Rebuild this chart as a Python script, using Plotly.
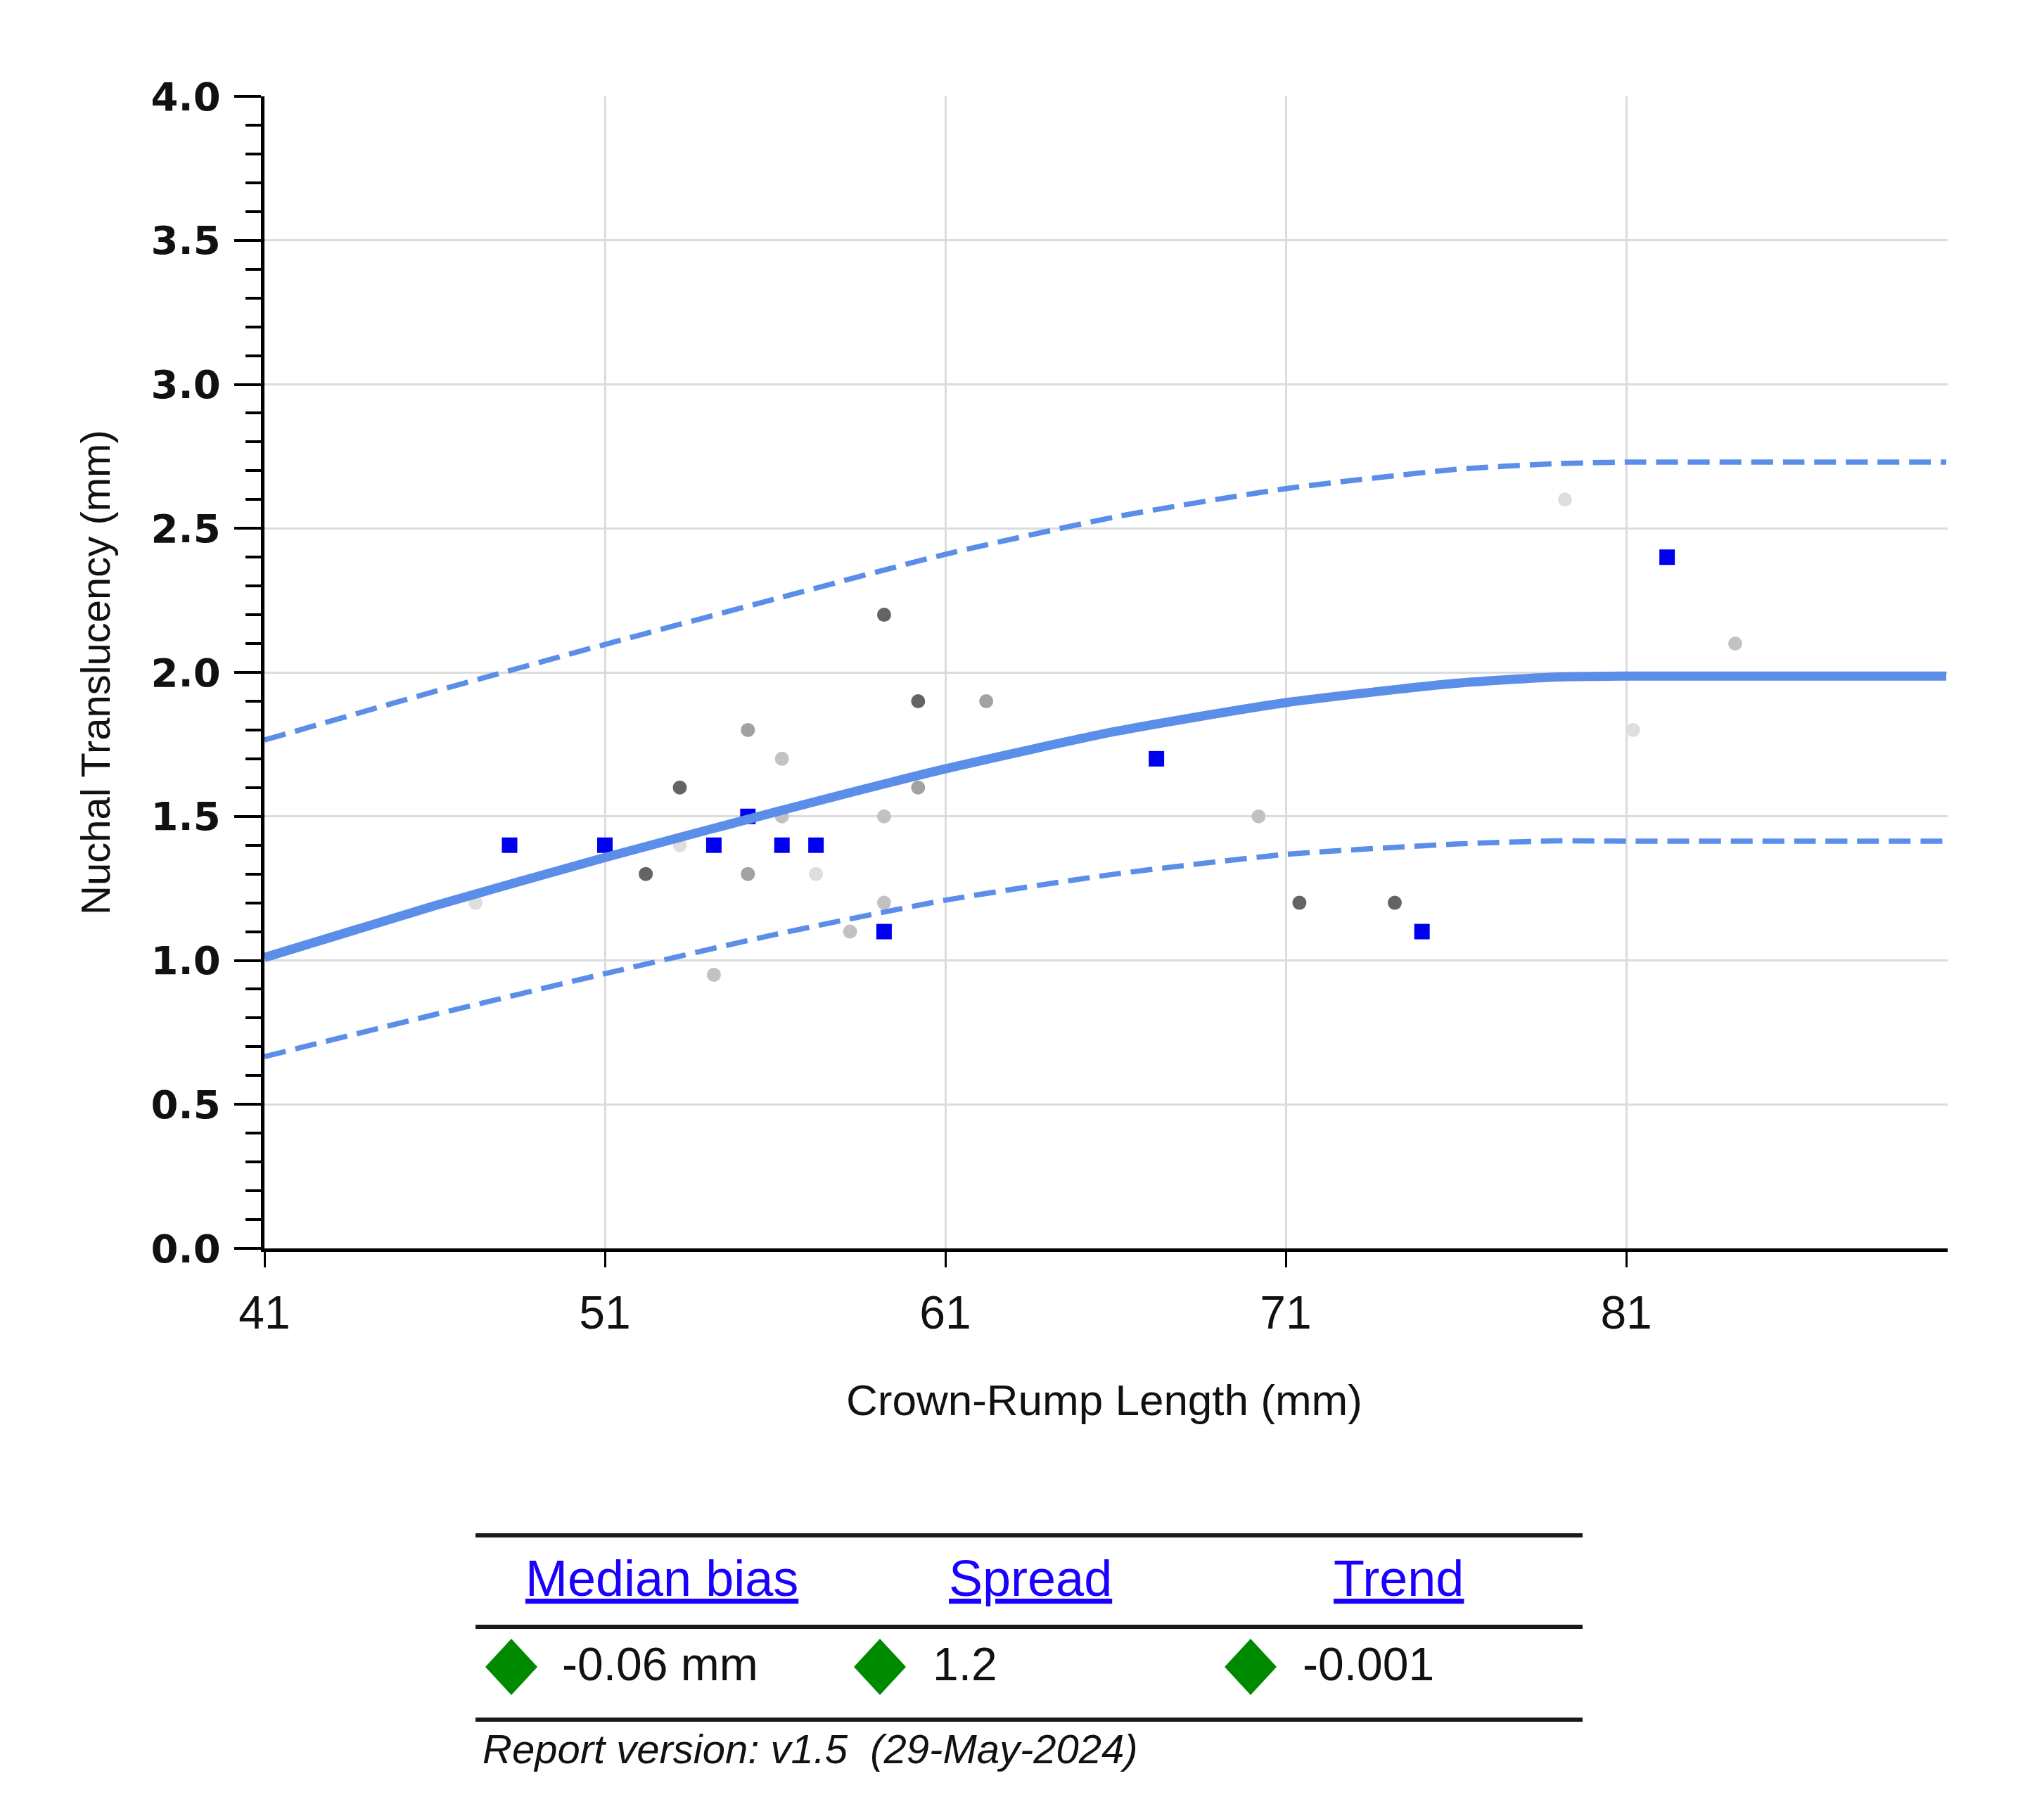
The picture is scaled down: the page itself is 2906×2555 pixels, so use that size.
import plotly.graph_objects as go

# ---------------- data ----------------
crl_blue = [48.2, 51.0, 54.2, 55.2, 56.2, 57.2, 59.2, 67.2, 75.0, 82.2]
nt_blue = [1.4, 1.4, 1.4, 1.5, 1.4, 1.4, 1.1, 1.7, 1.1, 2.4]

crl_dark = [59.2, 60.2, 53.2, 52.2, 71.4, 74.2]
nt_dark = [2.2, 1.9, 1.6, 1.3, 1.2, 1.2]
crl_mid = [62.2, 55.2, 60.2, 55.2]
nt_mid = [1.9, 1.8, 1.6, 1.3]
crl_light = [56.2, 59.2, 56.2, 59.2, 58.2, 54.2, 70.2, 84.2]
nt_light = [1.7, 1.5, 1.5, 1.2, 1.1, 0.95, 1.5, 2.1]
crl_faint = [53.2, 57.2, 47.2, 79.2, 81.2]
nt_faint = [1.4, 1.3, 1.2, 2.6, 1.8]

curve_crl = [41, 46, 51, 56, 61, 66, 71, 76, 79, 81, 86, 90.4]
curve_median = [1.01, 1.19, 1.357, 1.515, 1.665, 1.795, 1.895, 1.962, 1.984, 1.987, 1.987, 1.987]
curve_upper = [1.765, 1.934, 2.097, 2.255, 2.41, 2.54, 2.638, 2.705, 2.725, 2.73, 2.73, 2.73]
curve_lower = [0.666, 0.812, 0.954, 1.09, 1.209, 1.30, 1.368, 1.404, 1.415, 1.414, 1.414, 1.414]

x_ticks = [41, 51, 61, 71, 81]

table_headers = ["Median bias", "Spread", "Trend"]
table_values = ["-0.06 mm", "1.2", "-0.001"]
report_text = "Report version: v1.5 \u00a0(29-May-2024)"

# ---------------- layout helpers ----------------
W, H = 2906, 2555
OFF = 8  # default page body margin
L, R, T, B = 376, 2769, 137, 1775
FW, FH = W - OFF, H - OFF


def px(xp):
    return (xp - L) / (R - L)


def py(yp):
    return (B - yp) / (B - T)


CURVE = "#5b8ee8"
FONT = "Liberation Sans, Arial, sans-serif"

fig = go.Figure()

for xs, ys, col in [
    (crl_faint, nt_faint, "#dedede"),
    (crl_light, nt_light, "#c2c2c2"),
    (crl_mid, nt_mid, "#a2a2a2"),
    (crl_dark, nt_dark, "#646464"),
]:
    fig.add_trace(go.Scatter(x=xs, y=ys, mode="markers",
                             marker=dict(symbol="circle", size=20, color=col, line=dict(width=0)),
                             showlegend=False, hoverinfo="skip"))

fig.add_trace(go.Scatter(x=crl_blue, y=nt_blue, mode="markers",
                         marker=dict(symbol="square", size=22, color="#0000f0", line=dict(width=0)),
                         showlegend=False))

for ys, dash, w in [(curve_upper, "31px,14px", 7.5), (curve_lower, "31px,14px", 7.5), (curve_median, "solid", 13)]:
    fig.add_trace(go.Scatter(x=curve_crl, y=ys, mode="lines",
                             line=dict(color=CURVE, width=w, dash=dash, shape="spline", smoothing=0.6),
                             showlegend=False, hoverinfo="skip"))

fig.update_layout(
    width=FW, height=FH,
    margin=dict(l=L - OFF, r=FW + OFF - R, t=T - OFF, b=FH + OFF - B, pad=0),
    paper_bgcolor="white", plot_bgcolor="white",
    font=dict(family=FONT, color="#111111"),
    xaxis=dict(range=[41, 90.44], tickmode="array", tickvals=x_ticks,
               ticks="outside", ticklen=22, tickwidth=3, tickcolor="black",
               showline=True, linecolor="black", linewidth=5,
               showgrid=True, gridcolor="#dcdcdc", gridwidth=3, zeroline=False,
               tickfont=dict(family=FONT, size=66, color="#111111"),
               ticklabelstandoff=8),
    yaxis=dict(range=[0, 4], dtick=0.5, tick0=0, tickformat=".1f",
               ticks="outside", ticklen=38, tickwidth=4, tickcolor="black",
               showline=True, linecolor="black", linewidth=5,
               showgrid=True, gridcolor="#dcdcdc", gridwidth=3, zeroline=False,
               tickfont=dict(family="DejaVu Sans", size=56, color="#111111", weight="bold"),
               ticklabelstandoff=8,
               minor=dict(dtick=0.1, ticks="outside", ticklen=22, tickwidth=4,
                          tickcolor="black", showgrid=False)),
)

annotations = [
    dict(text="Nuchal Translucency (mm)", xref="paper", yref="paper",
         x=px(135), y=0.5, textangle=-90, showarrow=False,
         xanchor="center", yanchor="middle",
         font=dict(family=FONT, size=58, color="#111111")),
    dict(text="Crown-Rump Length (mm)", xref="paper", yref="paper",
         x=px(1570), y=py(1990), showarrow=False,
         xanchor="center", yanchor="middle",
         font=dict(family=FONT, size=62, color="#111111")),
]

header_cx = [941, 1465, 1988]
for cx, txt in zip(header_cx, table_headers):
    annotations.append(dict(text="<u>" + txt + "</u>", xref="paper", yref="paper",
                            x=px(cx), y=py(2244), showarrow=False,
                            xanchor="center", yanchor="middle",
                            font=dict(family=FONT, size=72, color="#1a00ff")))

diamond_cx = [727, 1251, 1778]
value_x0 = [797, 1324, 1850]
row_y = 2370
for dx, vx, txt in zip(diamond_cx, value_x0, table_values):
    annotations.append(dict(text=txt, xref="paper", yref="paper",
                            x=px(vx), y=py(row_y - 4), showarrow=False,
                            xanchor="left", yanchor="middle",
                            font=dict(family=FONT, size=66, color="#111111")))

annotations.append(dict(text="<i>" + report_text + "</i>", xref="paper", yref="paper",
                        x=px(684), y=py(2486), showarrow=False,
                        xanchor="left", yanchor="middle",
                        font=dict(family=FONT, size=58, color="#111111")))

shapes = []
for ly in [2183, 2313, 2445]:
    shapes.append(dict(type="line", xref="paper", yref="paper",
                       x0=px(676), x1=px(2250), y0=py(ly), y1=py(ly),
                       line=dict(color="#1a1a1a", width=6)))
for dx in diamond_cx:
    shapes.append(dict(type="path", xref="paper", yref="paper",
                       xsizemode="pixel", ysizemode="pixel",
                       xanchor=px(dx), yanchor=py(row_y),
                       path="M 0 40 L 37 0 L 0 -40 L -37 0 Z",
                       fillcolor="#008a00", line=dict(width=0)))

fig.update_layout(annotations=annotations, shapes=shapes)

fig.write_html("out.html")
